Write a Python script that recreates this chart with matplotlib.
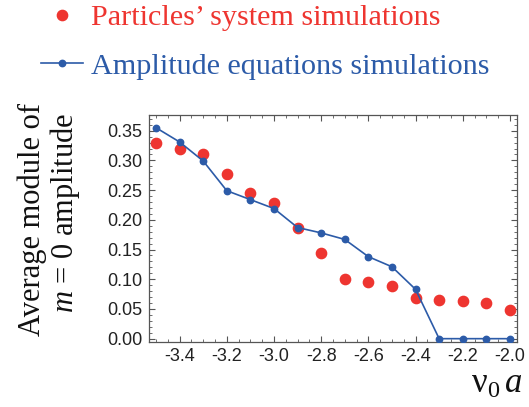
import matplotlib
matplotlib.use("Agg")
import matplotlib.pyplot as plt
from matplotlib.ticker import MultipleLocator, FormatStrFormatter

# Coupling parameter nu_0 a
nu0_a = [-3.5, -3.4, -3.3, -3.2, -3.1, -3.0, -2.9, -2.8,
         -2.7, -2.6, -2.5, -2.4, -2.3, -2.2, -2.1, -2.0]

# Average module of the m = 0 amplitude
particles = [0.330, 0.319, 0.310, 0.277, 0.245, 0.228, 0.187, 0.145,
             0.101, 0.096, 0.088, 0.068, 0.065, 0.063, 0.060, 0.049]
amplitude_eq = [0.355, 0.331, 0.299, 0.249, 0.234, 0.219, 0.187, 0.178,
                0.167, 0.138, 0.121, 0.083, 0.0, 0.0, 0.0, 0.0]

RED = "#EE3530"
BLUE = "#2C5BA8"
SERIF = "Liberation Serif"

plt.rcParams["mathtext.fontset"] = "custom"
plt.rcParams["mathtext.rm"] = SERIF
plt.rcParams["mathtext.it"] = SERIF + ":italic"

fig = plt.figure(figsize=(5.29, 4.07), dpi=100)
ax = fig.add_axes([149 / 529, 1 - 342 / 407, (517 - 149) / 529, (342 - 115) / 407])

line_amp, = ax.plot(nu0_a, amplitude_eq, color=BLUE, lw=1.2, marker="o",
                    ms=4.6, zorder=3, label="Amplitude equations simulations")
pts, = ax.plot(nu0_a, particles, color=RED, ls="none", marker="o", ms=7.4,
               zorder=2, label="Particles\u2019 system simulations")

ax.set_xlim(-3.5297, -1.970)
ax.set_ylim(-0.0056, 0.3764)
ax.xaxis.set_major_locator(MultipleLocator(0.2))
ax.xaxis.set_minor_locator(MultipleLocator(0.05))
ax.yaxis.set_major_locator(MultipleLocator(0.05))
ax.yaxis.set_minor_locator(MultipleLocator(0.01))
ax.xaxis.set_major_formatter(FormatStrFormatter("%.1f"))
ax.yaxis.set_major_formatter(FormatStrFormatter("%.2f"))

ax.tick_params(which="both", direction="in", top=True, right=True,
               color="#555555")
ax.tick_params(which="major", length=4, width=0.8, labelsize=13,
               labelcolor="#222222", pad=4.5)
ax.tick_params(which="minor", length=2, width=0.6)
for lbl in ax.get_xticklabels() + ax.get_yticklabels():
    lbl.set_family("Liberation Sans")
for sp in ax.spines.values():
    sp.set_color("#555555")
    sp.set_linewidth(0.9)

# Legend above the axes, text coloured like the series
leg = fig.legend(handles=[pts, line_amp], loc="upper left",
                 bbox_to_anchor=(38 / 529, 1 - 1 / 407), frameon=False,
                 prop={"family": SERIF, "size": 21.7}, handlelength=1.4,
                 handletextpad=0.27, labelspacing=0.72, borderpad=0.1,
                 numpoints=1, borderaxespad=0)
for txt, c in zip(leg.get_texts(), [RED, BLUE]):
    txt.set_color(c)

# Axis labels
fig.text(32 / 529, 1 - 220 / 407, "Average module of", rotation=90,
         ha="center", va="center", family=SERIF, fontsize=22, color="#111111")
fig.text(65 / 529, 1 - 213 / 407, r"$m$ = $\mathit{0}$ amplitude", rotation=90,
         ha="center", va="center", family=SERIF, fontsize=22, color="#111111")
fig.text(522 / 529, 1 - 384 / 407, r"$\mathrm{\nu}_{\mathit{0}}\,a$", ha="right",
         va="center", family=SERIF, fontsize=25, color="#111111")

fig.savefig("out.png", dpi=100)
